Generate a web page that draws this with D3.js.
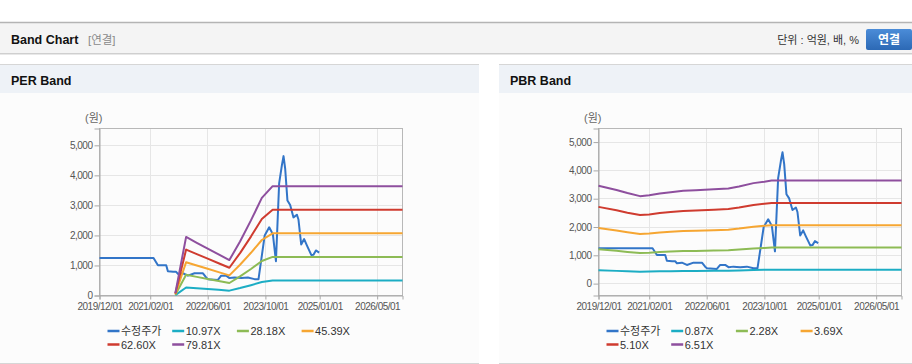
<!DOCTYPE html>
<html>
<head>
<meta charset="utf-8">
<script src="https://cdn.jsdelivr.net/npm/d3@7"></script>
<style>
body{margin:0;background:#fff;}
text{font-family:"Liberation Sans","Noto Sans CJK KR",sans-serif;}
</style>
</head>
<body>
<script>
/* chart data */
var xTickDates = ["2019-12-01","2021-02-01","2022-06-01","2023-10-01","2025-01-01","2026-05-01"];
var yTickValues = [0,1000,2000,3000,4000,5000];

var priceDates = ["2019-12-01","2021-03-01","2021-04-07","2021-06-16","2021-06-30","2021-08-14","2021-09-08","2021-09-23",
	"2021-11-04","2021-12-16","2022-02-10","2022-04-22","2022-05-19","2022-06-03","2022-08-26","2022-09-23","2022-11-04",
	"2022-12-02","2023-01-13","2023-03-11","2023-05-06","2023-07-01","2023-08-04","2023-09-25","2023-11-02","2023-12-03",
	"2023-12-29","2024-01-25","2024-02-17","2024-03-02","2024-03-16","2024-04-04","2024-04-27","2024-05-25","2024-06-23",
	"2024-07-06","2024-07-29","2024-08-23","2024-09-15","2024-10-22","2024-11-10","2024-11-30","2024-12-28"];
var priceValues = [1250,1250,1010,1010,810,790,790,720,
	740,660,740,740,600,545,520,660,660,
	580,600,580,600,545,545,2000,2270,2040,
	1140,3730,4330,4640,4220,3160,3010,2600,2690,
	2530,1700,1880,1670,1350,1360,1500,1430];

var perDates = ["2021-09-01","2021-12-01","2022-03-01","2022-06-01","2022-09-01","2022-12-01","2023-03-01","2023-06-01","2023-09-01","2023-12-01","2026-12-01"];
var perLabels = ["10.97X","28.18X","45.39X","62.60X","79.81X"];
var perBand1 = [11,268,241,215,188,162,247,344,447,500,500];
var perBand2 = [28,688,620,552,484,416,635,883,1147,1285,1285];
var perBand3 = [45,1109,999,890,779,671,1024,1422,1848,2070,2070];
var perBand4 = [63,1529,1377,1227,1075,925,1412,1961,2549,2855,2855];
var perBand5 = [80,1950,1756,1564,1370,1180,1800,2500,3250,3640,3640];

var pbrDates = ["2019-12-01","2020-05-01","2020-08-01","2020-11-15","2021-02-01","2021-05-01","2021-08-01","2021-11-15",
	"2022-03-01","2022-08-01","2022-12-01","2023-03-01","2023-07-01","2023-10-01","2023-12-01","2026-12-01"];
var pbrLabels = ["0.87X","2.28X","3.69X","5.10X","6.51X"];
var pbrBand1 = [470,450,436,421,425,433,440,446,449,453,457,466,482,489,494,494];
var pbrBand2 = [1212,1159,1121,1082,1093,1114,1131,1149,1156,1166,1177,1201,1243,1261,1275,1275];
var pbrBand3 = [1961,1876,1814,1752,1769,1803,1831,1859,1870,1887,1904,1944,2012,2041,2063,2063];
var pbrBand4 = [2711,2593,2507,2421,2444,2491,2531,2569,2585,2609,2632,2687,2781,2820,2851,2851];
var pbrBand5 = [3460,3310,3200,3090,3120,3180,3230,3280,3300,3330,3360,3430,3550,3600,3640,3640];

var colours = ["#3275c8","#1cadc4","#8dbb55","#f6a632","#cf3b2f","#8e4f9e"];
var parse = d3.timeParse("%Y-%m-%d");

var svg = d3.select("body").append("svg")
	.attr("width", 912).attr("height", 364);

/* page header */
svg.append("rect").attr("x", 0).attr("y", 22).attr("width", 912).attr("height", 31).attr("fill", "#f4f4f4");
svg.append("line").attr("x1", 0).attr("x2", 912).attr("y1", 22.5).attr("y2", 22.5).style("stroke", "#b4b4b4").style("stroke-width", 1.5);
svg.append("line").attr("x1", 0).attr("x2", 912).attr("y1", 53.5).attr("y2", 53.5).style("stroke", "#cfcfcf");
svg.append("line").attr("x1", 0).attr("x2", 912).attr("y1", 54.5).attr("y2", 54.5).style("stroke", "#e8e8e8");
svg.append("text").attr("x", 11).attr("y", 44).text("Band Chart")
	.attr("font-size", 12.5).attr("font-weight", "bold").attr("fill", "#111");
svg.append("text").attr("x", 88).attr("y", 44).text("[연결]")
	.attr("font-size", 11.5).attr("fill", "#8a8a8a");
svg.append("text").attr("x", 859).attr("y", 44).attr("text-anchor", "end").text("단위 : 억원, 배, %")
	.attr("font-size", 11).attr("fill", "#333");

var grad = svg.append("defs").append("linearGradient").attr("id", "btn").attr("x1", 0).attr("x2", 0).attr("y1", 0).attr("y2", 1);
grad.append("stop").attr("offset", "0%").attr("stop-color", "#4b8cd8");
grad.append("stop").attr("offset", "100%").attr("stop-color", "#2c69b5");
svg.append("rect").attr("x", 866).attr("y", 29).attr("rx", 2).attr("ry", 2)
	.attr("width", 46).attr("height", 21).attr("fill", "url(#btn)");
svg.append("text").attr("x", 889).attr("y", 44).attr("text-anchor", "middle").text("연결")
	.attr("font-size", 12).attr("font-weight", "bold").attr("fill", "#fff");

/* the two band panels */
drawPanel(0, 479, 99, "PER Band", [0, 5560], perDates, [perBand1, perBand2, perBand3, perBand4, perBand5], perLabels);
drawPanel(499, 413, 598, "PBR Band", [-420, 5480], pbrDates, [pbrBand1, pbrBand2, pbrBand3, pbrBand4, pbrBand5], pbrLabels);

function drawPanel(px, pw, left, title, yDomain, bandDates, bands, bandLabels){
var g = svg.append("g");

g.append("rect").attr("x", px).attr("y", 64).attr("width", pw).attr("height", 300).attr("fill", "#fcfcfc");
g.append("rect").attr("x", px).attr("y", 65).attr("width", pw).attr("height", 28).attr("fill", "#eef2f7");
g.append("line").attr("x1", px).attr("x2", px+pw).attr("y1", 64.5).attr("y2", 64.5).style("stroke", "#d6d6d6");
g.append("line").attr("x1", px).attr("x2", px+pw).attr("y1", 363.5).attr("y2", 363.5).style("stroke", "#d6d6d6");
g.append("text").attr("x", px+11).attr("y", 85).text(title)
	.attr("font-size", 12.5).attr("font-weight", "bold").attr("fill", "#111");

var top = 128, bottom = 295, right = left+303;
var x = d3.scaleTime().domain([parse("2019-12-01"), parse("2026-12-01")]).range([left+0.5, right+0.5]);
var y = d3.scaleLinear().domain(yDomain).range([bottom+0.5, top+0.5]);

g.append("text").attr("x", left-14).attr("y", 122).text("(원)")
	.attr("font-size", 11).attr("fill", "#666");

/* grid */
g.selectAll(".hg").data(yTickValues).enter().append("line")
	.attr("x1", left).attr("x2", right).attr("y1", function(d){return Math.round(y(d)-0.5)+0.5;}).attr("y2", function(d){return Math.round(y(d)-0.5)+0.5;})
	.style("stroke", "#e6e6e6");
g.selectAll(".vg").data(xTickDates).enter().append("line")
	.attr("x1", function(d){return Math.round(x(parse(d))-0.5)+0.5;}).attr("x2", function(d){return Math.round(x(parse(d))-0.5)+0.5;})
	.attr("y1", top).attr("y2", bottom).style("stroke", "#e6e6e6");
g.append("rect").attr("x", left+0.5).attr("y", top+0.5).attr("width", 303).attr("height", bottom-top)
	.attr("fill", "none").style("stroke", "#b8b8b8");

/* axes */
var yAxis = g.append("g").attr("transform", "translate(" + (left+0.5) + ",0)")
	.call(d3.axisLeft(y).tickValues(yTickValues).tickSize(5).tickPadding(2).tickFormat(d3.format(",")));
var xAxis = g.append("g").attr("transform", "translate(0," + (bottom+0.5) + ")")
	.call(d3.axisBottom(x).tickValues(xTickDates.map(parse)).tickSize(4).tickPadding(3).tickFormat(d3.timeFormat("%Y/%m/%d")));
[yAxis, xAxis].forEach(function(a){
	a.select(".domain").style("stroke", "#a8a8a8");
	a.selectAll(".tick line").style("stroke", "#a8a8a8");
	a.selectAll("text").attr("font-size", 10).attr("fill", "#555").style("letter-spacing", "-0.5px")
		.style("font-family", "'Liberation Sans','Noto Sans CJK KR',sans-serif");
});

/* series */
var line = d3.line().x(function(d){return x(d[0]);}).y(function(d){return y(d[1]);});
var series = [priceDates.map(function(d, i){return [parse(d), priceValues[i]];})];
bands.forEach(function(b){
	series.push(bandDates.map(function(d, i){return [parse(d), b[i]];}));
});
series.forEach(function(s, i){
	g.append("path").datum(s).attr("d", line)
		.attr("fill", "none").style("stroke", colours[i]).style("stroke-width", 2)
		.style("stroke-linejoin", "round");
});

/* legend */
var names = ["수정주가"].concat(bandLabels);
names.forEach(function(n, i){
	var lx = left + 8.5 + (i % 4) * 64.7, ly = 331 + Math.floor(i/4) * 13.5;
	g.append("line").attr("x1", lx).attr("x2", lx+12).attr("y1", ly).attr("y2", ly)
		.style("stroke", colours[i]).style("stroke-width", 2.5);
	g.append("text").attr("x", lx+13.5).attr("y", ly+4).text(n)
		.attr("font-size", 11).attr("fill", "#333");
});
}
</script>
</body>
</html>
